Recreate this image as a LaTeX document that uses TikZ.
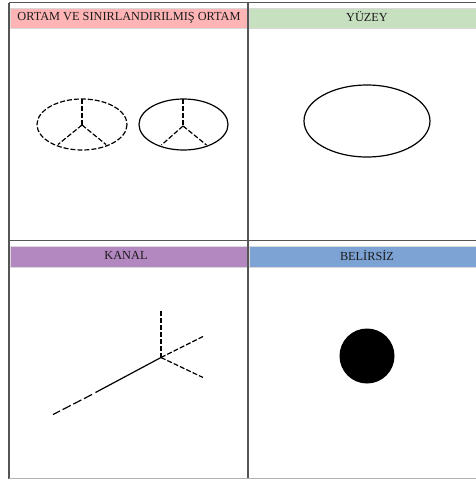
\documentclass[tikz,border=0pt]{standalone}
\usepackage{fontspec}
\setmainfont{Liberation Serif}
\definecolor{bandpink}{HTML}{FFB5B5}
\definecolor{bandgreen}{HTML}{C6E0C0}
\definecolor{bandpurple}{HTML}{B387BF}
\definecolor{bandblue}{HTML}{7DA3D5}
\definecolor{gridgray}{HTML}{555555}
\definecolor{txt}{HTML}{1A1A1A}
\begin{document}
\begin{tikzpicture}[x=1pt,y=-1pt,
  band/.style={draw=white!85!black, line width=0.6pt},
  title/.style={font=\fontsize{12.3}{14}\selectfont, text=txt, inner sep=0pt},
  gridline/.style={draw=gridgray, line width=1.3pt},
  dsh/.style={line width=1.2pt, dash pattern=on 5pt off 2pt},
  solidln/.style={line width=1.2pt},
  longdsh/.style={line width=1.2pt, dash pattern=on 9pt off 3pt}]
\useasboundingbox (0,0) rectangle (476,479);
% bands
\fill[bandpink, band] (10,8.5) rectangle (247,28);
\fill[bandgreen, band] (249,8.5) rectangle (476,28);
\fill[bandpurple, band] (10,246) rectangle (247,267);
\fill[bandblue, band] (249,246) rectangle (476,267);
% grid
\draw[gridline] (9,2.5) -- (476,2.5);
\draw[gridline] (9,240.5) -- (476,240.5);
\draw[gridline] (9,2.5) -- (9,479);
\draw[gridline] (248,2.5) -- (248,479);
\draw[draw=gray!60, line width=1pt] (9,478.5) -- (476,478.5);
% titles
\node[title] (t1) at (129,17.5) {ORTAM VE SINIRLANDIRILMIŞ ORTAM};
\node[title] (t2) at (367,17) {YÜZEY};
\node[title] (t3) at (126,255.5) {KANAL};
\node[title] (t4) at (367,255.5) {BELİRSİZ};
% ortam (dashed ellipse)
\draw[dsh] (82,124.5) ellipse [x radius=45, y radius=25.5];
\coordinate (c1) at (82,125);
\draw[dsh] (82,99) -- (c1);
\draw[dsh] (c1) -- (58,144.5);
\draw[dsh] (c1) -- (106,144.5);
% sinirlandirilmis ortam
\draw[solidln] (183.5,124.5) ellipse [x radius=44.5, y radius=25.5];
\coordinate (c2) at (183,126);
\draw[dsh] (183,99) -- (c2);
\draw[dsh] (c2) -- (161.5,145);
\draw[dsh] (c2) -- (206.5,145);
% yuzey
\draw[solidln] (367,121) ellipse [x radius=63, y radius=36];
% kanal
\coordinate (k) at (161,357.5);
\coordinate (kt) at (161,311);
\coordinate (kur) at (203,336.5);
\coordinate (klr) at (203,377.5);
\coordinate (km) at (95.5,392.5);
\coordinate (kl) at (53,414.5);
\draw[dsh] (kt) -- (k);
\draw[dsh] (k) -- (kur);
\draw[dsh] (k) -- (klr);
\draw[solidln] (k) -- (km);
\draw[longdsh] (92,394.5) -- (kl);
% belirsiz
\fill (367,356) circle [radius=27.5];
\end{tikzpicture}
\end{document}
